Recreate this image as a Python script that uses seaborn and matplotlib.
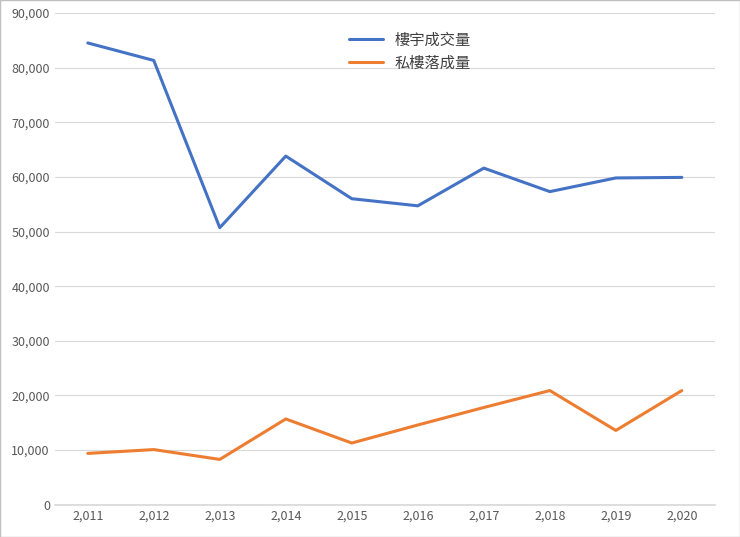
import matplotlib
matplotlib.use("Agg")
import matplotlib.pyplot as plt
import seaborn as sns
import pandas as pd
from matplotlib.ticker import FuncFormatter

years = [2011, 2012, 2013, 2014, 2015, 2016, 2017, 2018, 2019, 2020]
total = [84500, 81300, 50700, 63800, 56000, 54700, 61600, 57300, 59800, 59900]
private = [9400, 10100, 8300, 15700, 11300, 14600, 17800, 20900, 13600, 20900]
series_names = ["樓宇成交量", "私樓落成量"]

sns.set_theme(style="white")
plt.rcParams['font.family'] = ['Noto Sans CJK TC', 'DejaVu Sans']

df = pd.DataFrame({"year": [str(y)[0] + "," + str(y)[1:] for y in years] * 2,
                   "value": total + private,
                   "series": [series_names[0]] * 10 + [series_names[1]] * 10})

fig = plt.figure(figsize=(7.4, 5.37), dpi=100)
ax = fig.add_axes([0.074, 0.06, 0.892, 0.916])
sns.lineplot(data=df, x="year", y="value", hue="series", sort=False,
             palette=["#4472C4", "#ED7D31"], linewidth=2.2, ax=ax)
ax.set_ylim(0, 90000)
ax.set_xlim(-0.5, 9.5)
ax.set_yticks(range(0, 90001, 10000))
ax.yaxis.set_major_formatter(FuncFormatter(lambda v, p: f"{int(v):,}"))
ax.grid(axis="y", color="#D9D9D9", linewidth=0.8)
for s in ["top", "right", "left"]:
    ax.spines[s].set_visible(False)
ax.spines["bottom"].set_color("#D9D9D9")
ax.tick_params(axis="both", colors="#595959", labelsize=9, length=0)
ax.set_xlabel("")
ax.set_ylabel("")
leg = ax.legend(loc="upper left", bbox_to_anchor=(0.425, 0.99), frameon=False,
                fontsize=11, handlelength=2.2, labelspacing=0.4)
for t in leg.get_texts():
    t.set_color("#404040")
fig.patches.append(plt.Rectangle((0, 0), 1, 1, transform=fig.transFigure,
                                 fill=False, edgecolor="#BFBFBF", linewidth=1))
fig.savefig("out.png", dpi=100)
